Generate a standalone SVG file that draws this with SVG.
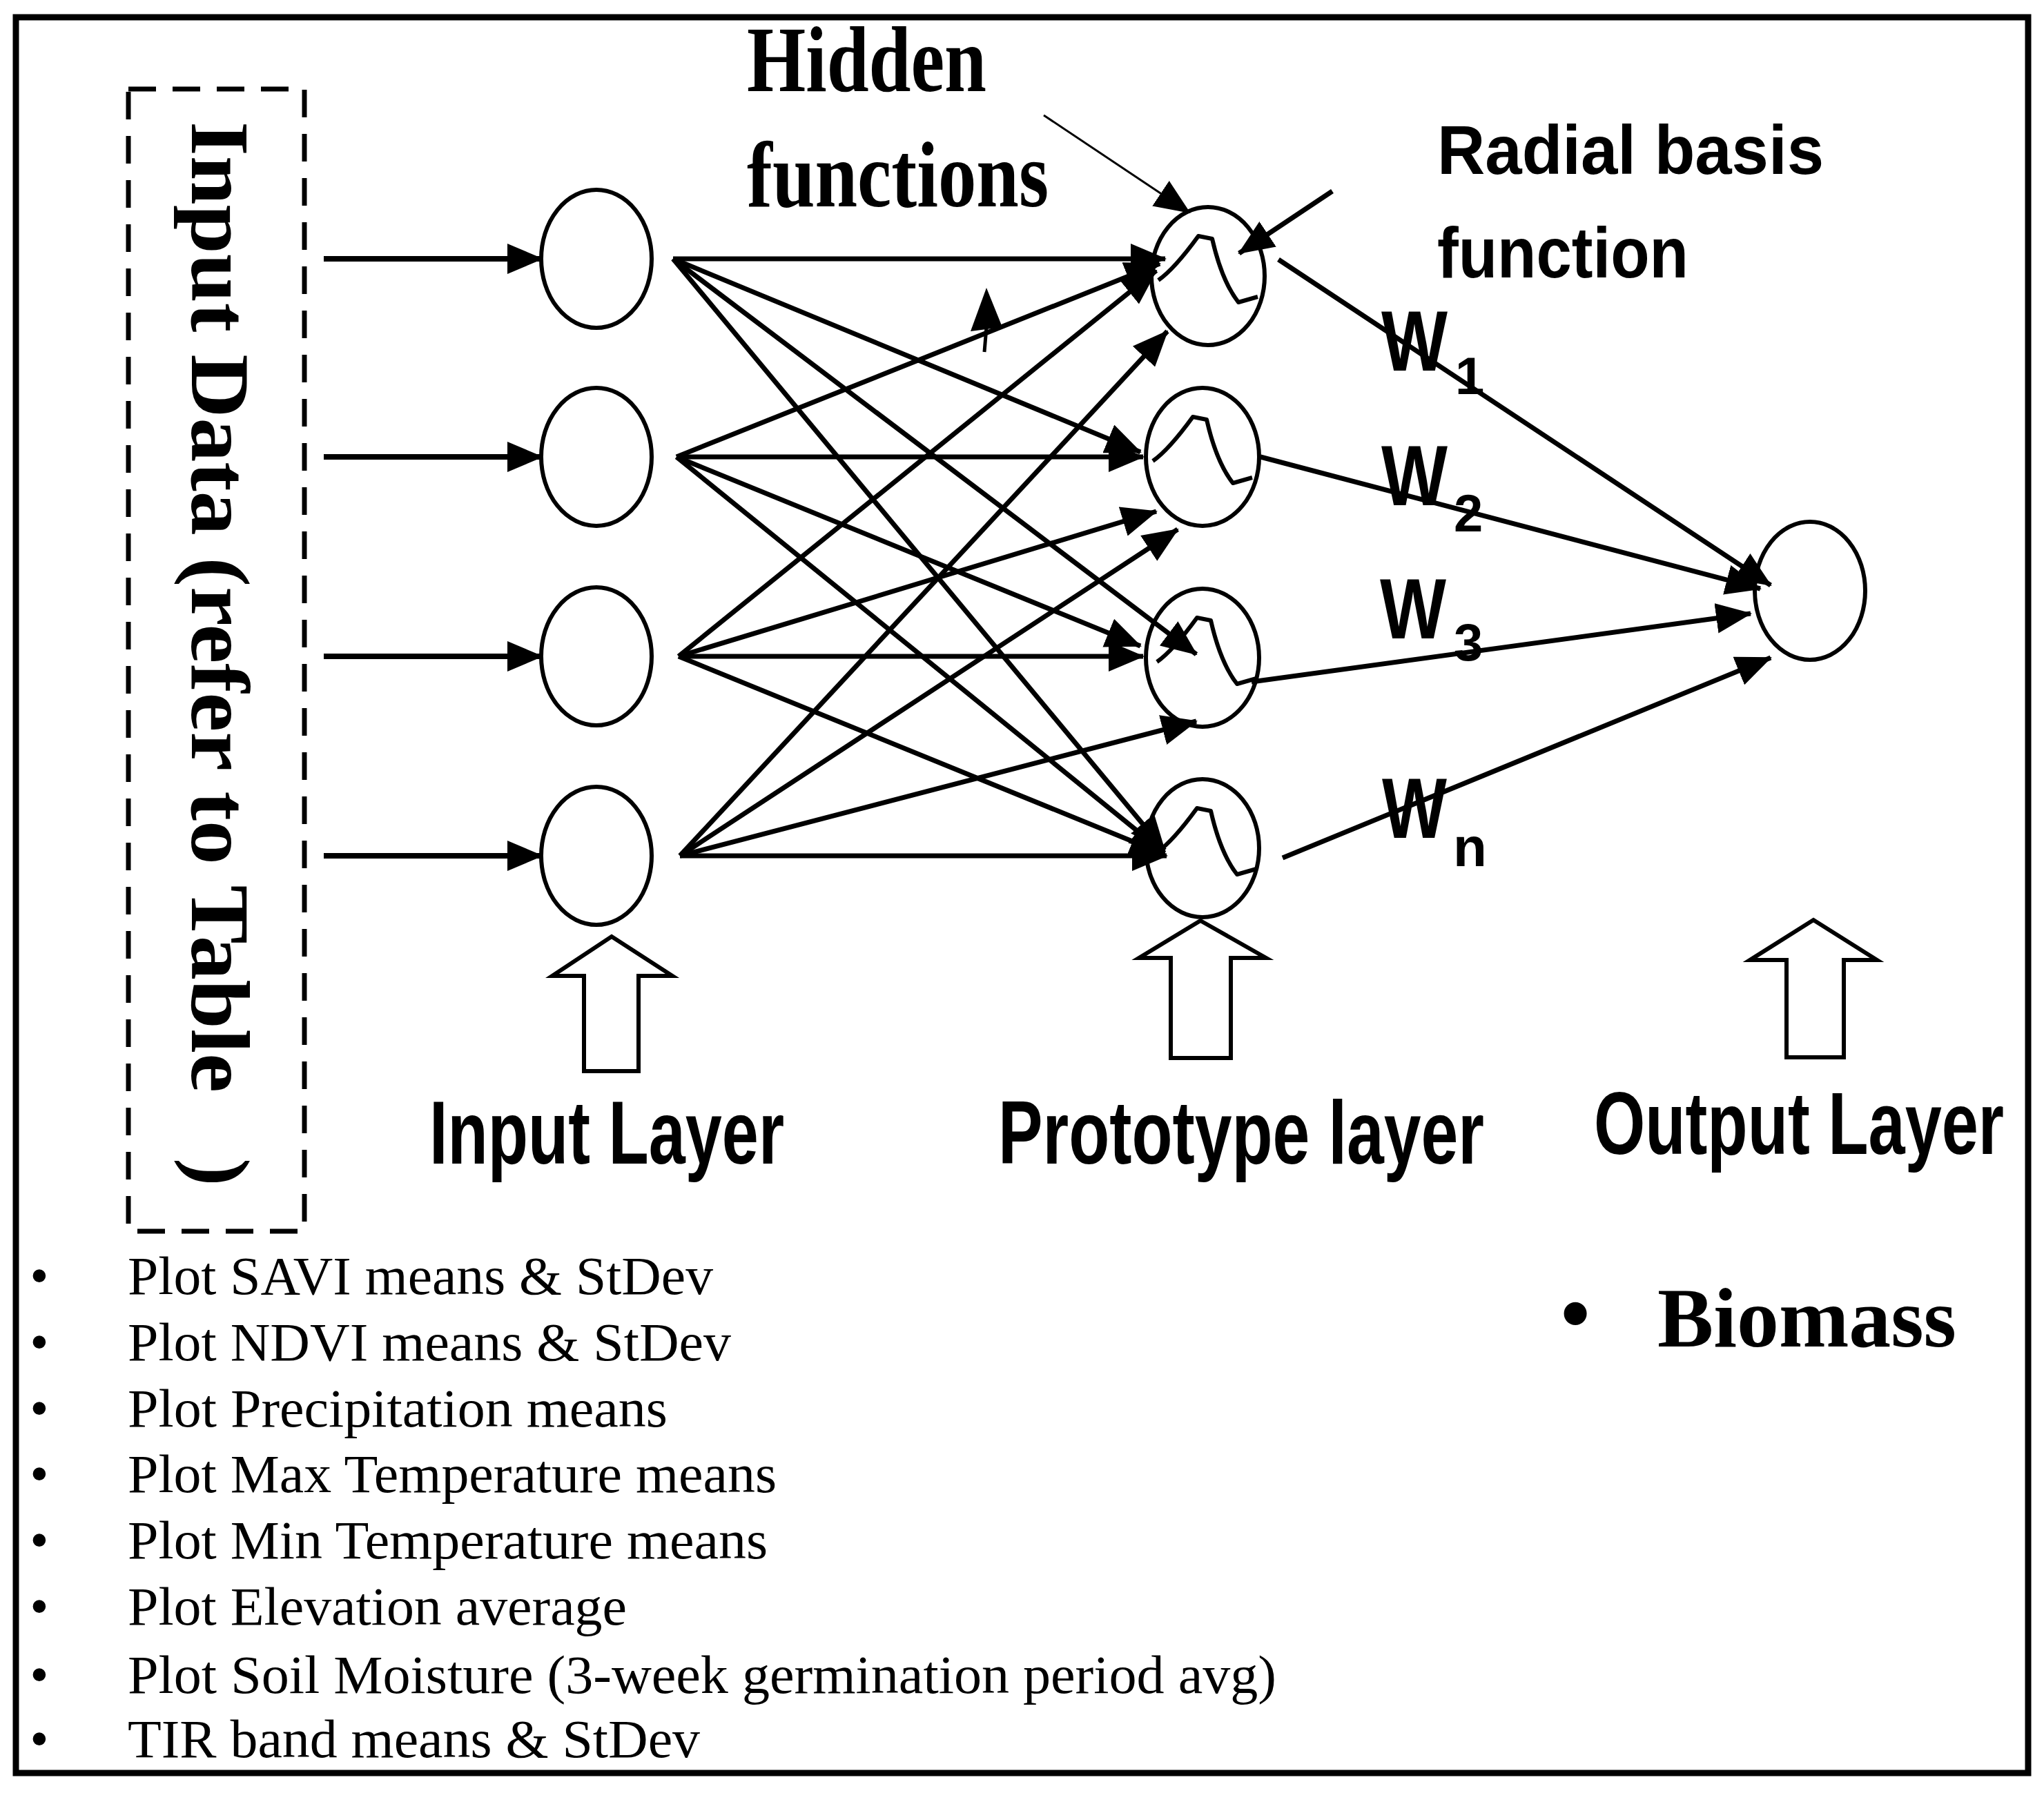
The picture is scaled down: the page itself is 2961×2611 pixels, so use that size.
<svg xmlns="http://www.w3.org/2000/svg" width="2961" height="2611" viewBox="0 0 2961 2611">
<style>
.node{fill:#fff;stroke:#000;stroke-width:6}
.conn line{stroke:#000;stroke-width:7;marker-end:url(#ah)}
.blk{fill:#fff;stroke:#000;stroke-width:6;stroke-linejoin:miter}
.bump{fill:none;stroke:#000;stroke-width:6;stroke-linejoin:round}
.sans{font-family:'Liberation Sans',Arial,sans-serif;font-weight:bold;fill:#000}
.serifb{font-family:'Liberation Serif','Times New Roman',serif;font-weight:bold;fill:#000}
.list{font-family:'Liberation Serif','Times New Roman',serif;font-size:78px;fill:#000}
</style>
<defs>
<marker id="ah" viewBox="0 0 52 44" refX="50" refY="22" markerWidth="52" markerHeight="44" markerUnits="userSpaceOnUse" orient="auto"><path d="M0,0 L52,22 L0,44 z" fill="#000"/></marker>
<path id="bumpShape" d="M-72,6 C-52,-8 -30,-36 -14,-58 L6,-54 C16,-10 30,20 44,38 L72,30"/>
</defs>
<rect width="2961" height="2611" fill="#fff"/>
<rect x="23" y="25" width="2915" height="2544" fill="none" stroke="#000" stroke-width="9"/>

<g id="input-data">
<rect x="186" y="129" width="255" height="1655" fill="none" stroke="#000" stroke-width="7" stroke-dasharray="40 24"/>
<text class="serifb" font-size="121" transform="translate(278,176) rotate(90)" textLength="1407" lengthAdjust="spacingAndGlyphs">Input Data (refer to Table</text>
<text class="serifb" font-size="121" transform="translate(278,1678) rotate(90)">)</text>
</g>

<g id="connectors" class="conn">
<line x1="469" y1="375" x2="785" y2="375" style="stroke-width:8"/>
<line x1="469" y1="662" x2="785" y2="662" style="stroke-width:8"/>
<line x1="469" y1="951" x2="785" y2="951" style="stroke-width:8"/>
<line x1="469" y1="1240" x2="785" y2="1240" style="stroke-width:8"/>
<line x1="975" y1="375" x2="1688" y2="375"/>
<line x1="975" y1="375" x2="1652" y2="655"/>
<line x1="975" y1="375" x2="1733" y2="948"/>
<line x1="975" y1="375" x2="1687" y2="1232"/>
<line x1="980" y1="662" x2="1680" y2="382"/>
<line x1="980" y1="662" x2="1656" y2="662"/>
<line x1="980" y1="662" x2="1652" y2="936"/>
<line x1="980" y1="662" x2="1687" y2="1236"/>
<line x1="983" y1="951" x2="1675" y2="392"/>
<line x1="983" y1="951" x2="1675" y2="741"/>
<line x1="983" y1="951" x2="1656" y2="951"/>
<line x1="983" y1="951" x2="1687" y2="1238"/>
<line x1="985" y1="1240" x2="1691" y2="480"/>
<line x1="985" y1="1240" x2="1706" y2="767"/>
<line x1="985" y1="1240" x2="1733" y2="1045"/>
<line x1="985" y1="1240" x2="1690" y2="1240"/>
<line x1="1852" y1="376" x2="2565" y2="848"/>
<line x1="1826" y1="662" x2="2550" y2="853"/>
<line x1="1813" y1="988" x2="2536" y2="889"/>
<line x1="1858" y1="1243" x2="2565" y2="953"/>
<line x1="1512" y1="167" x2="1723" y2="308" style="stroke-width:3"/>
<line x1="1930" y1="277" x2="1795" y2="367"/>
<polygon points="1429,417 1406,480 1452,474" fill="#000"/>
<line x1="1429" y1="474" x2="1426" y2="510" style="marker-end:none;stroke-width:5"/>
</g>

<g id="input-nodes">
<ellipse class="node" cx="864" cy="375" rx="80" ry="100"/>
<ellipse class="node" cx="864" cy="662" rx="80" ry="100"/>
<ellipse class="node" cx="864" cy="951" rx="80" ry="100"/>
<ellipse class="node" cx="864" cy="1240" rx="80" ry="100"/>
</g>

<g id="prototype-nodes">
<g id="proto1"><ellipse class="node" cx="1750" cy="400" rx="82" ry="100" fill-opacity="0"/><use href="#bumpShape" class="bump" transform="translate(1750,400)"/></g>
<g id="proto2"><ellipse class="node" cx="1742" cy="662" rx="82" ry="100" fill-opacity="0"/><use href="#bumpShape" class="bump" transform="translate(1742,662)"/></g>
<g id="proto3"><ellipse class="node" cx="1742" cy="953" rx="82" ry="100" fill-opacity="0"/><use href="#bumpShape" class="bump" transform="translate(1748,953)"/></g>
<g id="proto4"><ellipse class="node" cx="1742" cy="1229" rx="82" ry="100" fill-opacity="0"/><use href="#bumpShape" class="bump" transform="translate(1748,1229)"/></g>
</g>

<g id="output-node">
<ellipse class="node" cx="2622" cy="856" rx="80" ry="100" fill-opacity="0"/>
</g>

<g id="labels">
<text class="serifb" font-size="136" x="1082" y="132" textLength="347" lengthAdjust="spacingAndGlyphs">Hidden</text>
<text class="serifb" font-size="136" x="1082" y="299" textLength="437" lengthAdjust="spacingAndGlyphs">functions</text>
<text class="sans" font-size="100" x="2082" y="252" textLength="560" lengthAdjust="spacingAndGlyphs">Radial basis</text>
<text class="sans" font-size="104" x="2082" y="402" textLength="364" lengthAdjust="spacingAndGlyphs">function</text>
<text class="sans" font-size="124" x="2001" y="537" textLength="96" lengthAdjust="spacingAndGlyphs">W</text>
<text class="sans" font-size="76" x="2108" y="571">1</text>
<text class="sans" font-size="124" x="2001" y="732" textLength="96" lengthAdjust="spacingAndGlyphs">W</text>
<text class="sans" font-size="76" x="2106" y="770">2</text>
<text class="sans" font-size="124" x="1999" y="925" textLength="96" lengthAdjust="spacingAndGlyphs">W</text>
<text class="sans" font-size="76" x="2106" y="957">3</text>
<text class="sans" font-size="124" x="2002" y="1214" textLength="94" lengthAdjust="spacingAndGlyphs">W</text>
<text class="sans" font-size="80" x="2105" y="1255">n</text>
</g>

<g id="layer-arrows">
<polygon class="blk" points="886,1357 974,1414 925,1414 925,1552 846,1552 846,1414 800,1414"/>
<polygon class="blk" points="1739,1334 1834,1388 1783,1388 1783,1533 1696,1533 1696,1388 1650,1388"/>
<polygon class="blk" points="2627,1333 2719,1391 2671,1391 2671,1532 2588,1532 2588,1391 2535,1391"/>
<text class="sans" font-size="130" x="622" y="1686" textLength="514" lengthAdjust="spacingAndGlyphs">Input Layer</text>
<text class="sans" font-size="130" x="1446" y="1686" textLength="704" lengthAdjust="spacingAndGlyphs">Prototype layer</text>
<text class="sans" font-size="128" x="2309" y="1672" textLength="594" lengthAdjust="spacingAndGlyphs">Output Layer</text>
</g>

<g id="input-list" class="list">
<text x="57" y="1875" text-anchor="middle">•</text><text x="185" y="1875" textLength="848" lengthAdjust="spacingAndGlyphs">Plot SAVI means &amp; StDev</text>
<text x="57" y="1971" text-anchor="middle">•</text><text x="185" y="1971" textLength="874" lengthAdjust="spacingAndGlyphs">Plot NDVI means &amp; StDev</text>
<text x="57" y="2067" text-anchor="middle">•</text><text x="185" y="2067" textLength="782" lengthAdjust="spacingAndGlyphs">Plot Precipitation means</text>
<text x="57" y="2162" text-anchor="middle">•</text><text x="185" y="2162" textLength="940" lengthAdjust="spacingAndGlyphs">Plot Max Temperature means</text>
<text x="57" y="2258" text-anchor="middle">•</text><text x="185" y="2258" textLength="927" lengthAdjust="spacingAndGlyphs">Plot Min Temperature means</text>
<text x="57" y="2354" text-anchor="middle">•</text><text x="185" y="2354" textLength="723" lengthAdjust="spacingAndGlyphs">Plot Elevation average</text>
<text x="57" y="2453" text-anchor="middle">•</text><text x="185" y="2453" textLength="1664" lengthAdjust="spacingAndGlyphs">Plot Soil Moisture (3-week germination period avg)</text>
<text x="57" y="2546" text-anchor="middle">•</text><text x="185" y="2546" textLength="829" lengthAdjust="spacingAndGlyphs">TIR band means &amp; StDev</text>
</g>

<g id="output-list">
<text class="serifb" font-size="122" x="2282" y="1944" text-anchor="middle">•</text>
<text class="serifb" font-size="122" x="2401" y="1951" textLength="433" lengthAdjust="spacingAndGlyphs">Biomass</text>
</g>
</svg>
